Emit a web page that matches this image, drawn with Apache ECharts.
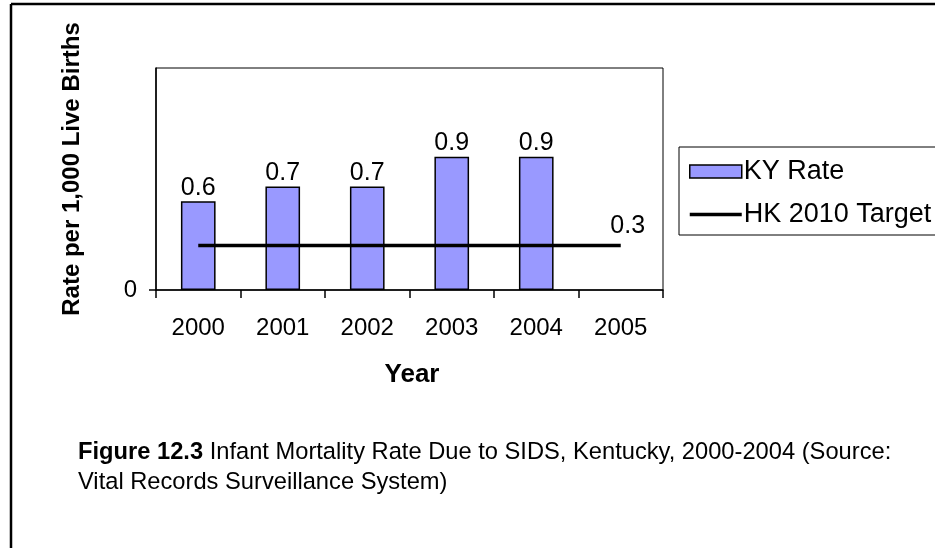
<!DOCTYPE html>
<html>
<head>
<meta charset="utf-8">
<script src="https://cdn.jsdelivr.net/npm/echarts@6/dist/echarts.min.js"></script>
<style>
html,body{margin:0;padding:0;background:#fff;}
#chart{width:935px;height:548px;}
</style>
</head>
<body>
<div id="chart"></div>
<script>
var categories = ['2000', '2001', '2002', '2003', '2004', '2005'];
var kyRate = [0.6, 0.7, 0.7, 0.9, 0.9, null];
var hkTarget = [0.3, 0.3, 0.3, 0.3, 0.3, 0.3];
var yTickValues = [0];
var seriesNames = ['KY Rate', 'HK 2010 Target'];

var FONT = '"Liberation Sans", Arial, sans-serif';
var chart = echarts.init(document.getElementById('chart'), null, {renderer: 'canvas'});

var lineData = hkTarget.map(function (v, i) {
  if (i === hkTarget.length - 1) {
    return {value: v, label: {show: true, position: 'top', distance: 7, offset: [7, 0],
      color: '#000', fontSize: 25, fontFamily: FONT}};
  }
  return v;
});

var option = {
  animation: false,
  backgroundColor: '#fff',
  textStyle: {fontFamily: FONT},
  grid: {left: 156, right: 272, top: 68, bottom: 258, show: true, borderColor: '#000', borderWidth: 1, backgroundColor: 'transparent'},
  legend: {
    left: 679, top: 147,
    orient: 'vertical',
    itemWidth: 52, itemHeight: 13, itemGap: 16,
    padding: [11, 14, 7, 10],
    borderColor: '#000', borderWidth: 1,
    symbolKeepAspect: true,
    textStyle: {fontSize: 27, color: '#000', fontFamily: FONT, padding: [0, 0, 0, -3]},
    data: [
      {name: seriesNames[0], icon: 'rect', itemStyle: {borderColor: '#000', borderWidth: 1.5}},
      {name: seriesNames[1], icon: 'path://M0 0H52V3.5H0Z'}
    ]
  },
  xAxis: {
    type: 'category',
    data: categories,
    boundaryGap: true,
    axisLine: {show: true, lineStyle: {color: '#000', width: 1.5}},
    axisTick: {show: true, interval: 0, alignWithLabel: false, length: 8, lineStyle: {color: '#000', width: 1.5}},
    axisLabel: {fontSize: 24, color: '#000', margin: 26, fontFamily: FONT, interval: 0},
    splitLine: {show: false}
  },
  yAxis: {
    type: 'value',
    min: 0, max: 1.5, interval: 1.5,
    axisLine: {show: true, lineStyle: {color: '#000', width: 1.5}},
    axisTick: {show: true, length: 7, customValues: yTickValues, lineStyle: {color: '#000', width: 1.5}},
    axisLabel: {fontSize: 24, color: '#000', margin: 19, fontFamily: FONT, customValues: yTickValues},
    splitLine: {show: false}
  },
  series: [
    {
      name: seriesNames[0],
      type: 'bar',
      data: kyRate,
      barWidth: '41%',
      itemStyle: {color: '#9999ff', borderColor: '#000', borderWidth: 1.5},
      label: {show: true, position: 'top', distance: 1, color: '#000', fontSize: 25, fontFamily: FONT},
      z: 2
    },
    {
      name: seriesNames[1],
      type: 'line',
      data: lineData,
      symbol: 'circle',
      symbolSize: 0,
      showSymbol: true,
      lineStyle: {color: '#000', width: 3.5},
      itemStyle: {color: '#000'},
      z: 3
    }
  ],
  graphic: [
    {type: 'line', shape: {x1: 11, y1: 4, x2: 935, y2: 4}, style: {stroke: '#000', lineWidth: 2.5}},
    {type: 'line', shape: {x1: 11, y1: 4, x2: 11, y2: 548}, style: {stroke: '#000', lineWidth: 2.5}},
    {type: 'text', x: 72, y: 169, rotation: Math.PI / 2,
      style: {text: 'Rate per 1,000 Live Births', font: 'bold 24px ' + FONT, fill: '#000', align: 'center', verticalAlign: 'middle'}},
    {type: 'text', x: 412, y: 375,
      style: {text: 'Year', font: 'bold 26px ' + FONT, fill: '#000', align: 'center', verticalAlign: 'middle'}},
    {type: 'text', x: 78, y: 437,
      style: {
        text: '{b|Figure 12.3} Infant Mortality Rate Due to SIDS, Kentucky, 2000-2004 (Source:\nVital Records Surveillance System)',
        fontSize: 23.7, fontFamily: FONT, fill: '#000', lineHeight: 30, verticalAlign: 'top',
        rich: {b: {fontWeight: 'bold', fontSize: 23.7, fontFamily: FONT, lineHeight: 30}}
      }}
  ]
};
chart.setOption(option);
</script>
</body>
</html>
